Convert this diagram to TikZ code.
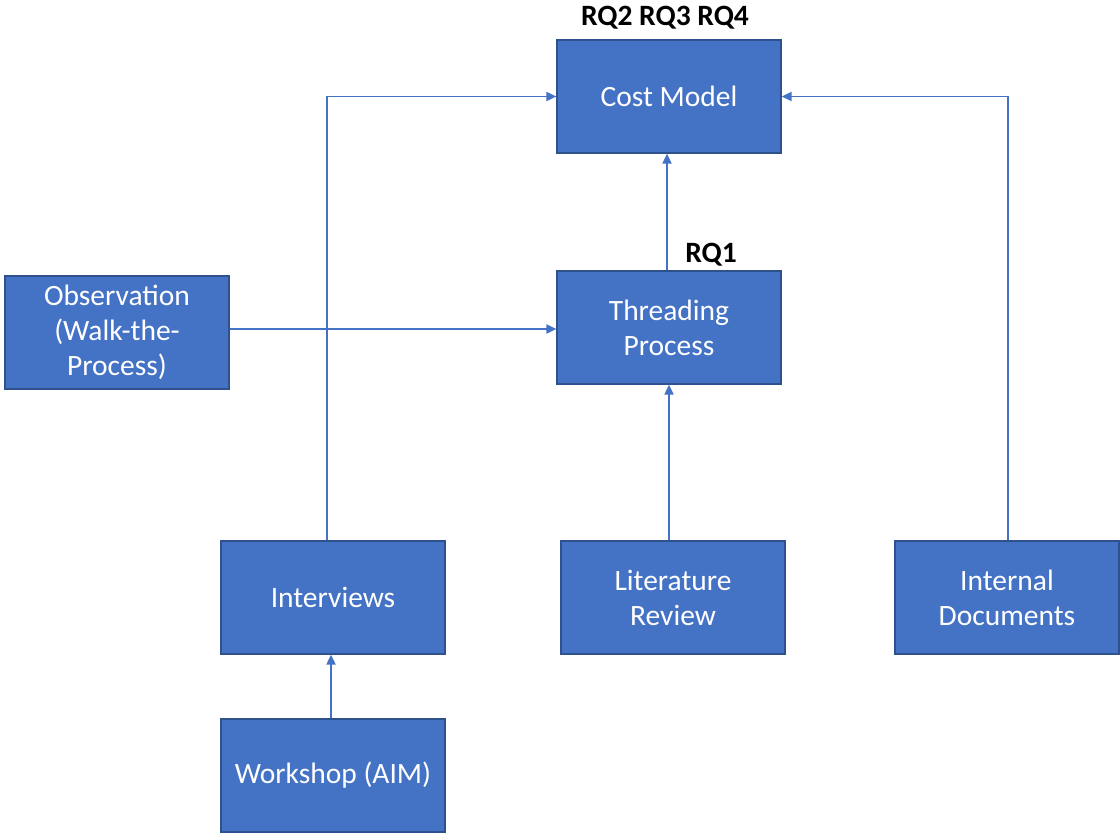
\documentclass[tikz,border=0pt]{standalone}
\usepackage{fontspec}
\setmainfont{Carlito}
\usetikzlibrary{arrows.meta}
\definecolor{boxblue}{HTML}{4472C4}
\definecolor{boxedge}{HTML}{2F528F}
\begin{document}
\begin{tikzpicture}[x=1pt,y=-1pt,
  box/.style={rectangle, fill=boxblue, draw=boxedge, line width=1.2pt,
    minimum width=224pt, minimum height=113pt, inner sep=0pt,
    text=white, font=\fontsize{29.5}{35}\selectfont, align=center},
  rq/.style={font=\bfseries\fontsize{29.5}{35}\selectfont, inner sep=0pt},
  link/.style={draw=boxblue, line width=1.8pt,
    -{Triangle[length=10pt,width=9pt]}}]
\useasboundingbox (0,0) rectangle (1120,833);

\node[box] (cost)   at (669,96.5)  {Cost Model};
\node[box] (thread) at (669,327.5) {Threading\\Process};
\node[box] (obs)    at (117,332.5) {Observation\\(Walk-the-\\Process)};
\node[box] (int)    at (333,597.5) {Interviews};
\node[box] (lit)    at (673,597.5) {Literature\\Review};
\node[box] (docs)   at (1007,597.5) {Internal\\Documents};
\node[box] (work)   at (333,775.5) {Workshop (AIM)};

\node[rq] (rqa) at (665,18)  {RQ2 RQ3 RQ4};
\node[rq] (rqb) at (711,255) {RQ1};

\coordinate (intup)  at (327,96.5);
\coordinate (docsup) at (1008,96.5);

\draw[link] (int.north -| intup) -- (intup) -- (cost.west);
\draw[link] (docs.north -| docsup) -- (docsup) -- (cost.east);
\draw[link] (obs.east |- 0,329) -- (thread.west |- 0,329);
\draw[link] (thread.north -| 667,0) -- (cost.south -| 667,0);
\draw[link] (lit.north -| 669,0) -- (thread.south -| 669,0);
\draw[link] (work.north -| 331,0) -- (int.south -| 331,0);
\end{tikzpicture}
\end{document}
